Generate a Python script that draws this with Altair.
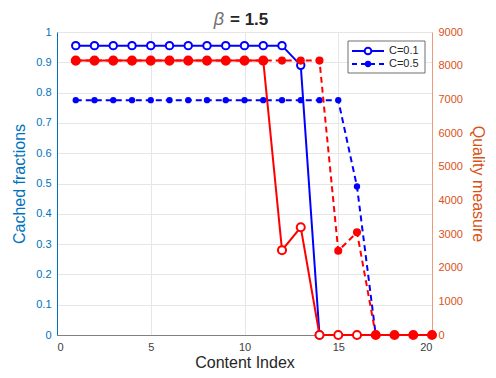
import altair as alt
import pandas as pd

# ---- data ----
idx_c01_frac = [1, 2, 3, 4, 5, 6, 7, 8, 9, 10, 11, 12, 13, 14]
frac_c01 = [0.955, 0.955, 0.955, 0.955, 0.955, 0.955, 0.955, 0.955, 0.955, 0.955, 0.955, 0.955, 0.89, 0.0]

idx_c05_frac = [1, 2, 3, 4, 5, 6, 7, 8, 9, 10, 11, 12, 13, 14, 15, 16, 17]
frac_c05 = [0.775, 0.775, 0.775, 0.775, 0.775, 0.775, 0.775, 0.775, 0.775, 0.775,
            0.775, 0.775, 0.775, 0.775, 0.775, 0.49, 0.0]

idx_quality = [1, 2, 3, 4, 5, 6, 7, 8, 9, 10, 11, 12, 13, 14, 15, 16, 17, 18, 19, 20]
quality_c01 = [8150, 8150, 8150, 8150, 8150, 8150, 8150, 8150, 8150, 8150, 8150,
               2520, 3200, 0, 0, 0, 0, 0, 0, 0]
quality_c05 = [8150, 8150, 8150, 8150, 8150, 8150, 8150, 8150, 8150, 8150, 8150,
               8150, 8150, 8150, 2500, 3050, 0, 0, 0, 0]

x_ticks = [0, 5, 10, 15, 20]
frac_ticks = [0, 0.1, 0.2, 0.3, 0.4, 0.5, 0.6, 0.7, 0.8, 0.9, 1]
quality_ticks = [0, 1000, 2000, 3000, 4000, 5000, 6000, 7000, 8000, 9000]
legend_labels = ["C=0.1", "C=0.5"]
title_symbol = "β"
title_rest = "= 1.5"

FONT = "Liberation Sans"
BLUE = "#0000FF"
RED = "#FF0000"
LEFT_AX = "#0072BD"
RIGHT_AX = "#D95319"

df_f01 = pd.DataFrame({"x": idx_c01_frac, "y": frac_c01})
df_f05 = pd.DataFrame({"x": idx_c05_frac, "y": frac_c05})
df_q01 = pd.DataFrame({"x": idx_quality, "y": quality_c01})
df_q05 = pd.DataFrame({"x": idx_quality, "y": quality_c05})

x_enc = alt.X("x:Q", scale=alt.Scale(domain=[0, 20], nice=False),
              axis=alt.Axis(values=x_ticks, title="Content Index", grid=True,
                            gridColor="#e6e6e6", domainColor="#808080",
                            labelColor="#404040", titleColor="#262626",
                            labelFontSize=11, titleFontSize=16, titleFontWeight="normal",
                            ticks=False, labelPadding=6, titlePadding=2,
                            labelFont=FONT, titleFont=FONT))

left_axis = alt.Axis(values=frac_ticks, orient="left", title="Cached fractions",
                     labelExpr="datum.value == 0 ? '0' : (datum.value == 1 ? '1' : format(datum.value, '.1f'))",
                     grid=True, gridColor="#e6e6e6", domainColor=LEFT_AX,
                     labelColor=LEFT_AX, titleColor=LEFT_AX, labelFontSize=11,
                     titleFontSize=16, titleFontWeight="normal", ticks=False,
                     labelPadding=6, titlePadding=8, labelFont=FONT, titleFont=FONT)
y_left = alt.Y("y:Q", scale=alt.Scale(domain=[0, 1], nice=False), axis=left_axis)

right_axis = alt.Axis(values=quality_ticks, orient="right", title="Quality measure",
                      format="d", grid=False, domainColor="#ee9a7a", labelColor=RIGHT_AX,
                      titleColor=RIGHT_AX, labelFontSize=11, titleFontSize=16,
                      titleFontWeight="normal", ticks=False, labelPadding=6,
                      titlePadding=7, labelFont=FONT, titleFont=FONT)
y_right = alt.Y("y:Q", scale=alt.Scale(domain=[0, 9000], nice=False), axis=right_axis)

dash = [6, 4]

left = alt.layer(
    alt.Chart(df_f01).mark_line(color=BLUE, strokeWidth=2).encode(x=x_enc, y=y_left),
    alt.Chart(df_f01).mark_point(shape="circle", size=55, filled=False, color=BLUE,
                                 strokeWidth=2, fill="white", fillOpacity=1).encode(x=x_enc, y=y_left),
    alt.Chart(df_f05).mark_line(color=BLUE, strokeWidth=2, strokeDash=dash).encode(x=x_enc, y=y_left),
    alt.Chart(df_f05).mark_point(shape="circle", size=40, filled=True, color=BLUE,
                                 opacity=1).encode(x=x_enc, y=y_left),
)

right = alt.layer(
    alt.Chart(df_q01).mark_line(color=RED, strokeWidth=2).encode(x=x_enc, y=y_right),
    alt.Chart(df_q01).mark_point(shape="circle", size=65, filled=False, color=RED,
                                 strokeWidth=2, fill="white", fillOpacity=1).encode(x=x_enc, y=y_right),
    alt.Chart(df_q05).mark_line(color=RED, strokeWidth=2, strokeDash=dash).encode(x=x_enc, y=y_right),
    alt.Chart(df_q05).mark_point(shape="circle", size=65, filled=True, color=RED,
                                 opacity=1).encode(x=x_enc, y=y_right),
)

one = alt.Data(values=[{"k": 0}])
legend = alt.layer(
    alt.Chart(one).mark_rect(fill="white", stroke="#6e6e6e", strokeWidth=1).encode(
        x=alt.value(291), x2=alt.value(368), y=alt.value(9), y2=alt.value(41)),
    alt.Chart(one).mark_rule(color=BLUE, strokeWidth=2).encode(
        x=alt.value(295), x2=alt.value(327), y=alt.value(19)),
    alt.Chart(one).mark_point(shape="circle", size=45, filled=False, color=BLUE,
                              strokeWidth=2, fill="white", fillOpacity=1).encode(
        x=alt.value(311), y=alt.value(19)),
    alt.Chart(one).mark_text(text=legend_labels[0], align="left", baseline="middle",
                             fontSize=11, font=FONT, color="#262626").encode(
        x=alt.value(332), y=alt.value(19)),
    alt.Chart(one).mark_rule(color=BLUE, strokeWidth=2, strokeDash=[5, 4]).encode(
        x=alt.value(295), x2=alt.value(327), y=alt.value(32)),
    alt.Chart(one).mark_point(shape="circle", size=40, filled=True, color=BLUE,
                              opacity=1).encode(x=alt.value(311), y=alt.value(32)),
    alt.Chart(one).mark_text(text=legend_labels[1], align="left", baseline="middle",
                             fontSize=11, font=FONT, color="#262626").encode(
        x=alt.value(332), y=alt.value(32)),
    alt.Chart(one).mark_text(text=title_symbol, align="right", baseline="alphabetic",
                             fontSize=18, font=FONT, fontStyle="italic",
                             color="#707070").encode(x=alt.value(167), y=alt.value(-7)),
    alt.Chart(one).mark_text(text=title_rest, align="left", baseline="alphabetic",
                             fontSize=17, font=FONT, fontWeight="bold",
                             color="#262626").encode(x=alt.value(173), y=alt.value(-7)),
)

chart = alt.layer(left, right, legend).resolve_scale(y="independent").properties(
    width=375, height=303,
    autosize=alt.AutoSizeParams(type="none"),
    padding={"left": 49, "top": 24, "right": 56, "bottom": 35},
).configure_view(stroke="#808080", strokeWidth=1).configure(background="white")

chart.save("out.html", embed_options={"renderer": "svg", "actions": False})
